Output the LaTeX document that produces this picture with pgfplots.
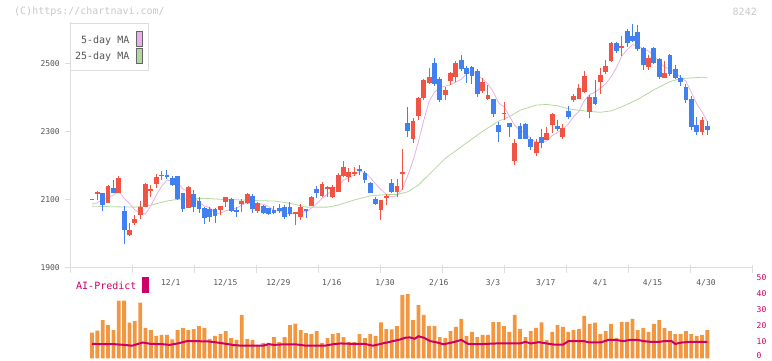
\documentclass[border=0pt]{standalone}
\usepackage{fontspec}
\setmainfont{DejaVu Sans Mono}
\usepackage{pgfplots}
\pgfplotsset{compat=1.18}
\usepackage{pgfplotstable}
\definecolor{cred}{RGB}{240,84,68}
\definecolor{cblue}{RGB}{64,128,240}
\definecolor{cpink}{RGB}{232,176,232}
\definecolor{cgreen}{RGB}{178,216,160}
\definecolor{corange}{RGB}{242,150,64}
\definecolor{cmag}{RGB}{204,0,102}
\definecolor{caxis}{RGB}{221,221,221}
\definecolor{ctext}{RGB}{85,85,85}
\definecolor{cwm}{RGB}{200,200,200}

\pgfplotstableread{
i O H L C V
0 2101 2102 2101 2102 16.1
1 2119 2127 2100 2121 17.4
2 2121 2121 2068 2085 24.0
3 2092 2145 2090 2141 20.9
4 2135 2159 2121 2121 17.8
5 2121 2171 2121 2165 36.1
6 2068 2082 1971 2013 36.1
7 1997 2033 1995 2012 22.4
8 2032 2056 2026 2043 23.4
9 2056 2098 2043 2078 34.9
10 2078 2150 2078 2147 19.1
11 2128 2145 2110 2133 17.8
12 2147 2176 2134 2168 14.1
13 2171 2185 2158 2174 14.7
14 2174 2188 2163 2168 14.7
15 2165 2171 2141 2143 12.0
16 2171 2172 2100 2103 17.8
17 2121 2121 2066 2074 19.1
18 2077 2141 2076 2138 17.8
19 2118 2129 2066 2080 18.4
20 2098 2110 2063 2073 20.3
21 2076 2080 2029 2046 19.1
22 2073 2080 2036 2051 12.2
23 2073 2076 2032 2053 14.1
24 2071 2082 2056 2082 15.3
25 2095 2110 2080 2110 17.1
26 2103 2106 2066 2068 12.8
27 2071 2079 2049 2066 11.6
28 2088 2102 2066 2097 27.2
29 2092 2122 2088 2118 12.2
30 2112 2118 2063 2074 11.6
31 2069 2094 2063 2090 8.4
32 2082 2085 2060 2063 9.7
33 2076 2076 2055 2058 9.7
34 2071 2082 2058 2061 13.4
35 2077 2088 2062 2068 10.3
36 2080 2085 2045 2051 13.4
37 2080 2094 2053 2058 20.9
38 2058 2066 2026 2066 21.8
39 2051 2088 2041 2080 17.8
40 2074 2074 2046 2068 15.9
41 2082 2112 2082 2110 15.3
42 2132 2141 2105 2121 17.1
43 2113 2153 2110 2147 9.7
44 2131 2141 2110 2137 12.8
45 2108 2144 2105 2139 15.3
46 2124 2179 2124 2173 15.9
47 2171 2215 2168 2196 13.4
48 2168 2193 2154 2182 10.3
49 2176 2197 2171 2182 10.3
50 2191 2203 2173 2186 15.3
51 2180 2185 2150 2159 12.8
52 2151 2153 2120 2121 15.3
53 2103 2110 2085 2088 14.1
54 2071 2100 2041 2100 22.6
55 2106 2118 2085 2112 18.4
56 2149 2161 2121 2124 18.2
57 2124 2162 2110 2141 20.3
58 2176 2250 2129 2181 39.7
59 2327 2374 2286 2304 40.3
60 2279 2340 2268 2332 24.0
61 2348 2404 2335 2399 33.4
62 2399 2456 2394 2453 27.2
63 2443 2487 2440 2461 20.3
64 2502 2517 2435 2442 20.3
65 2455 2461 2388 2394 13.4
66 2409 2433 2394 2423 12.8
67 2451 2477 2438 2473 17.1
68 2463 2510 2448 2502 19.7
69 2512 2526 2480 2485 24.7
70 2487 2494 2445 2471 14.1
71 2490 2494 2440 2466 16.6
72 2480 2485 2403 2412 13.4
73 2421 2458 2414 2448 14.7
74 2397 2438 2394 2409 14.7
75 2396 2396 2344 2353 22.8
76 2321 2330 2271 2301 22.8
77 2352 2389 2335 2357 20.3
78 2326 2326 2284 2316 16.6
79 2216 2278 2203 2267 27.2
80 2318 2327 2278 2278 18.4
81 2323 2326 2279 2279 13.4
82 2278 2286 2247 2257 17.1
83 2239 2278 2229 2271 19.1
84 2286 2308 2254 2267 22.6
85 2276 2314 2276 2296 11.6
86 2321 2355 2298 2353 16.6
87 2318 2335 2304 2309 20.9
88 2286 2323 2279 2313 19.7
89 2363 2376 2338 2345 16.6
90 2394 2412 2387 2406 17.8
91 2398 2441 2397 2430 18.4
92 2418 2479 2415 2465 26.6
93 2360 2409 2342 2402 21.6
94 2402 2453 2379 2382 22.4
95 2448 2487 2412 2468 15.3
96 2477 2512 2470 2494 17.1
97 2508 2565 2505 2562 21.6
98 2562 2565 2532 2539 12.8
99 2550 2581 2523 2552 22.8
100 2598 2604 2549 2562 22.8
101 2581 2618 2566 2568 24.7
102 2594 2614 2539 2544 17.8
103 2547 2549 2483 2498 19.1
104 2491 2526 2483 2518 16.6
105 2547 2550 2500 2503 21.6
106 2515 2518 2456 2462 24.0
107 2459 2510 2459 2473 19.1
108 2525 2530 2466 2471 17.1
109 2486 2498 2455 2459 15.3
110 2459 2469 2434 2447 15.3
111 2432 2441 2385 2395 17.1
112 2397 2406 2306 2315 15.3
113 2322 2343 2292 2300 14.1
114 2300 2344 2290 2336 14.7
115 2317 2332 2292 2307 17.8
}\candles

\pgfplotstableread{
i v
0 2088
1 2092
2 2100
3 2108
4 2114
5 2126
6 2105
7 2090
8 2071
9 2062
10 2059
11 2083
12 2114
13 2140
14 2158
15 2157
16 2151
17 2132
18 2125
19 2108
20 2094
21 2082
22 2078
23 2061
24 2061
25 2068
26 2073
27 2076
28 2085
29 2092
30 2085
31 2089
32 2088
33 2081
34 2069
35 2068
36 2060
37 2059
38 2061
39 2065
40 2065
41 2076
42 2089
43 2105
44 2117
45 2131
46 2143
47 2158
48 2165
49 2174
50 2184
51 2181
52 2166
53 2147
54 2131
55 2116
56 2109
57 2113
58 2132
59 2172
60 2216
61 2271
62 2334
63 2390
64 2417
65 2430
66 2435
67 2439
68 2447
69 2455
70 2471
71 2479
72 2467
73 2456
74 2441
75 2418
76 2385
77 2374
78 2347
79 2319
80 2304
81 2299
82 2279
83 2270
84 2270
85 2274
86 2289
87 2299
88 2308
89 2323
90 2345
91 2361
92 2392
93 2410
94 2417
95 2429
96 2442
97 2462
98 2489
99 2523
100 2542
101 2557
102 2553
103 2545
104 2538
105 2526
106 2505
107 2491
108 2485
109 2474
110 2462
111 2449
112 2417
113 2383
114 2359
115 2331
}\mafive

\pgfplotstableread{
i v
0 2082
4 2080
8 2079
11 2085
14 2097
16 2102
19 2104
21 2105
24 2102
28 2100
31 2098
34 2097
36 2093
38 2087
40 2079
44 2079
46 2085
49 2100
52 2112
55 2116
57 2116
59 2124
61 2144
63 2175
66 2222
70 2268
73 2302
76 2332
78 2345
80 2364
83 2379
85 2381
87 2377
89 2368
92 2362
95 2358
97 2362
99 2374
102 2396
105 2424
108 2448
110 2457
112 2459
114 2461
115 2459
}\matwfive

\pgfplotstableread{
i v
0 9.1
2 9.0
4 9.0
6 8.5
7.5 8.0
9.5 10.0
11 9.1
13 9.0
14.5 8.5
16 9.4
17.7 10.8
20 10.8
22 10.6
24 9.7
26.5 8.4
28 8.0
32 8.0
33 9.0
34 8.5
36 8.9
38 8.9
40 8.0
43.5 8.0
45 8.9
46.5 9.4
49 9.1
51 9.1
52.5 8.0
53.8 9.0
55.5 10.3
57.6 11.9
58.6 13.0
59.4 13.2
60.3 12.3
61 13.9
62 13.0
63.2 10.9
64.5 10.0
65.7 8.9
67 9.8
68.2 10.8
69 11.6
70.3 9.1
72 8.9
75.6 9.4
80 9.4
81 10.4
82 9.4
83.5 10.2
85 9.4
86.6 8.6
88 8.6
89 10.8
92 10.8
93 10.0
95 10.0
96.5 11.6
98 11.6
99.3 10.8
100.5 11.6
102 11.6
103 10.9
104.4 10.4
106 10.4
107 10.9
108.3 10.9
109 9.1
110.2 10.0
112 10.4
115 10.4
}\aipred

\begin{document}
\begin{tikzpicture}[x=1pt,y=1pt]
\useasboundingbox (0,0) rectangle (772,361);
% watermark
\node[anchor=west,inner sep=0pt,text=cwm,font=\fontsize{10}{12}\selectfont] at (14,349) {(C)https://chartnavi.com/};
\node[anchor=east,inner sep=0pt,text=cwm,font=\fontsize{10}{12}\selectfont] at (757,349) {8242};

% main price axis
\begin{axis}[at={(70pt,93pt)}, anchor=south west, scale only axis,
  width=682pt, height=246pt,
  xmin=-4.111, xmax=123.34, ymin=1900, ymax=2623.5,
  clip=false, axis lines*=left,
  axis line style={draw=caxis, line width=1pt},
  xtick=\empty, ytick=\empty]
\addplot[cgreen, line width=0.8pt] table[x=i,y=v] {\matwfive};
\addplot[cpink, line width=0.8pt] table[x=i,y=v] {\mafive};
% wicks
\addplot[draw=none, mark=none, restrict expr to domain={\thisrow{C}-\thisrow{O}}{0:100000},
  error bars/.cd, y dir=both, y explicit, error mark=none,
  error bar style={draw=cred, line width=1pt}]
  table[x=i, y expr=(\thisrow{H}+\thisrow{L})/2, y error expr={max((\thisrow{H}-\thisrow{L})/2,0.5)}] {\candles};
\addplot[draw=none, mark=none, restrict expr to domain={\thisrow{O}-\thisrow{C}}{0.001:100000},
  error bars/.cd, y dir=both, y explicit, error mark=none,
  error bar style={draw=cblue, line width=1pt}]
  table[x=i, y expr=(\thisrow{H}+\thisrow{L})/2, y error expr={max((\thisrow{H}-\thisrow{L})/2,0.5)}] {\candles};
% bodies
\addplot[draw=none, mark=none, restrict expr to domain={\thisrow{C}-\thisrow{O}}{0:100000},
  error bars/.cd, y dir=both, y explicit, error mark=none,
  error bar style={draw=cred, line width=4.8pt}]
  table[x=i, y expr=(\thisrow{O}+\thisrow{C})/2, y error expr={max(abs(\thisrow{C}-\thisrow{O})/2,2.2)}] {\candles};
\addplot[draw=none, mark=none, restrict expr to domain={\thisrow{O}-\thisrow{C}}{0.001:100000},
  error bars/.cd, y dir=both, y explicit, error mark=none,
  error bar style={draw=cblue, line width=4.8pt}]
  table[x=i, y expr=(\thisrow{O}+\thisrow{C})/2, y error expr={max(abs(\thisrow{C}-\thisrow{O})/2,2.2)}] {\candles};
\end{axis}

% volume axis
\begin{axis}[at={(70pt,2.5pt)}, anchor=south west, scale only axis,
  width=682pt, height=80pt,
  xmin=-4.111, xmax=123.34, ymin=0, ymax=50,
  clip=false, axis lines=none, xtick=\empty, ytick=\empty]
\addplot[ybar, bar width=3.8pt, bar shift=0pt, fill=corange, draw=none] table[x=i,y=V] {\candles};
\addplot[cmag, line width=2pt] table[x=i,y=v] {\aipred};
\end{axis}

% y tick marks and labels
\foreach \p/\yy in {1900/93,2100/161,2300/229,2500/297} {
  \draw[caxis, line width=1pt] (65,\yy) -- (70,\yy);
  \node[anchor=east,inner sep=0pt,text=ctext,font=\fontsize{8}{9}\selectfont] at (60,\yy) {\p};
}
% x tick marks
\foreach \xx in {70,132,194,256,318,380,442,504,566,628,690,752} {
  \draw[caxis, line width=1pt] (\xx,96) -- (\xx,87.7);
}
% x tick labels
\foreach \xx/\lab in {170.8/12\slash 1,225.3/12\slash 15,278.3/12\slash 29,331.7/1\slash 16,385/1\slash 30,438.8/2\slash 16,493/3\slash 3,545.7/3\slash 17,600/4\slash 1,652.5/4\slash 15,706/4\slash 30} {
  \node[inner sep=0pt,text=ctext,font=\fontsize{8}{9}\selectfont] at (\xx,78) {\lab};
}
% volume labels
\foreach \v/\yy in {0/5,10/19.7,20/35.3,30/51.7,40/67.7,50/83.3} {
  \node[anchor=west,inner sep=0pt,text=cmag,font=\fontsize{8}{9}\selectfont] at (756.5,\yy) {\v};
}
% AI-Predict label
\node[anchor=west,inner sep=0pt,text=cmag,font=\fontsize{10}{12}\selectfont] at (76,75) {AI-Predict};
\fill[cmag] (142.3,68.3) rectangle (148.7,83.7);

% legend
\draw[caxis, fill=white, line width=1pt] (70,337) rectangle (148,290);
\node[anchor=east,inner sep=0pt,text=ctext,font=\fontsize{10}{12}\selectfont] at (129.5,320.3) {5-day MA};
\node[anchor=east,inner sep=0pt,text=ctext,font=\fontsize{10}{12}\selectfont] at (129.5,304.3) {25-day MA};
\draw[fill=cpink, draw=gray!80!black, line width=0.7pt] (136.6,329.4) rectangle (142.4,314.6);
\draw[fill=cgreen, draw=gray!80!black, line width=0.7pt] (136.6,312.4) rectangle (142.4,298);
\end{tikzpicture}
\end{document}
